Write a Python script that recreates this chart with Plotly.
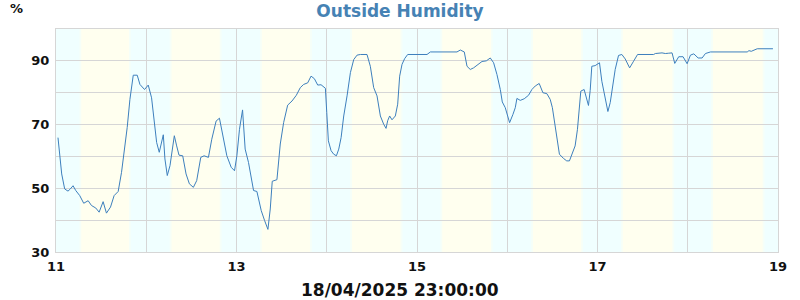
import plotly.graph_objects as go

# ---- data ----
day = [11.022, 11.041, 11.063, 11.096, 11.133, 11.159, 11.189, 11.219, 11.263, 11.307,
       11.356, 11.393, 11.441, 11.478, 11.522, 11.559, 11.604, 11.644, 11.689, 11.726,
       11.752, 11.789, 11.819, 11.856, 11.900, 11.930, 11.981, 12.022, 12.059, 12.096,
       12.115, 12.144, 12.170, 12.189, 12.207, 12.233, 12.263, 12.289, 12.311, 12.337,
       12.363, 12.404, 12.441, 12.478, 12.522, 12.559, 12.604, 12.641, 12.689, 12.726,
       12.774, 12.811, 12.848, 12.893, 12.941, 12.978, 13.004, 13.033, 13.067, 13.096,
       13.133, 13.189, 13.226, 13.274, 13.311, 13.348, 13.374, 13.396, 13.448, 13.485,
       13.522, 13.567, 13.615, 13.663, 13.707, 13.744, 13.789, 13.826, 13.863, 13.900,
       13.937, 13.985, 14.000, 14.018, 14.048, 14.077, 14.107, 14.133, 14.159, 14.188,
       14.225, 14.262, 14.299, 14.336, 14.373, 14.446, 14.483, 14.520, 14.557, 14.594,
       14.631, 14.657, 14.675, 14.697, 14.723, 14.760, 14.786, 14.808, 14.834, 14.863,
       14.897, 15.111, 15.148, 15.443, 15.480, 15.524, 15.554, 15.590, 15.627, 15.664,
       15.720, 15.768, 15.812, 15.849, 15.886, 15.923, 15.945, 15.978, 16.000, 16.026,
       16.063, 16.089, 16.107, 16.144, 16.188, 16.236, 16.273, 16.310, 16.354, 16.395,
       16.439, 16.476, 16.500, 16.530, 16.556, 16.578, 16.622, 16.659, 16.689, 16.719,
       16.752, 16.778, 16.800, 16.815, 16.852, 16.881, 16.900, 16.919, 16.937, 16.974,
       17.022, 17.048, 17.085, 17.115, 17.141, 17.170, 17.196, 17.233, 17.270, 17.307,
       17.356, 17.400, 17.444, 17.622, 17.641, 17.715, 17.752, 17.789, 17.826, 17.856,
       17.900, 17.948, 17.993, 18.030, 18.067, 18.115, 18.159, 18.196, 18.252, 18.659,
       18.678, 18.704, 18.733, 18.770, 18.944]

humidity = [65.9, 60.2, 54.5, 49.8, 49.1, 49.8, 50.8, 49.3, 47.7, 45.3,
            46.1, 44.6, 43.8, 42.5, 45.8, 42.2, 44.1, 47.7, 49.0, 55.0,
            60.2, 69.1, 77.9, 85.5, 85.5, 82.6, 81.0, 82.4, 78.4, 69.6,
            64.4, 61.3, 64.4, 66.8, 59.2, 54.0, 57.1, 62.3, 66.5, 63.3,
            60.4, 60.2, 54.5, 51.4, 50.3, 52.4, 59.7, 60.2, 59.7, 65.4,
            71.1, 72.0, 67.0, 60.2, 56.6, 55.5, 60.2, 68.5, 74.6, 62.3,
            58.1, 49.3, 49.0, 43.0, 39.9, 37.1, 43.5, 52.2, 52.7, 63.9,
            70.6, 76.1, 77.4, 79.2, 81.6, 82.6, 83.1, 85.2, 84.4, 82.4,
            82.5, 81.4, 73.8, 64.9, 61.8, 60.7, 60.2, 62.3, 65.9, 72.7,
            79.0, 86.3, 90.4, 91.8, 92.0, 92.0, 88.3, 81.6, 79.0, 72.7,
            70.1, 68.8, 71.2, 72.7, 71.5, 72.7, 76.4, 85.2, 88.9, 90.7,
            92.0, 92.0, 92.8, 92.8, 93.4, 92.8, 88.3, 87.3, 87.8, 88.6,
            89.8, 90.0, 90.9, 89.4, 85.7, 81.0, 77.1, 75.3, 73.2, 70.6,
            73.2, 75.3, 78.2, 77.6, 78.1, 79.2, 81.0, 82.1, 82.9, 80.0,
            79.7, 77.9, 75.3, 69.6, 63.3, 60.7, 59.4, 58.6, 58.6, 60.7,
            63.3, 68.5, 76.9, 80.5, 81.0, 77.9, 76.0, 80.7, 88.3, 88.5,
            89.4, 83.6, 77.9, 74.1, 76.9, 82.1, 87.3, 91.7, 92.0, 90.6,
            87.8, 89.9, 92.0, 92.0, 92.3, 92.5, 92.3, 92.4, 92.5, 89.2,
            91.3, 91.3, 89.1, 91.8, 92.2, 90.9, 90.9, 92.3, 92.8, 92.8,
            93.2, 93.0, 93.3, 93.8, 93.8]

sunrise = [11.28, 12.28, 13.28, 14.28, 15.28, 16.285, 17.28, 18.28]
sunset = [11.808, 12.815, 13.815, 14.818, 15.819, 16.82, 17.83, 18.83]

x_ticks = [11, 12, 13, 14, 15, 16, 17, 18, 19]
x_ticktext = ["11", "", "13", "", "15", "", "17", "", "19"]
y_ticks = [30, 40, 50, 60, 70, 80, 90]
y_ticktext = ["30", "", "50", "", "70", "", "90"]

title_text = "Outside Humidity"
unit_text = "%"
footer_text = "18/04/2025 23:00:00"

NIGHT = "#F0FFFF"
DAY = "#FFFFEF"
MIX = "#F6FFF8"
EDGE = 0.02

fig = go.Figure()

shapes = []
for sr, ss in zip(sunrise, sunset):
    shapes.append(dict(type="rect", xref="x", yref="paper", x0=sr - EDGE, x1=ss + EDGE,
                       y0=0, y1=1, fillcolor=MIX, line_width=0, layer="below"))
    shapes.append(dict(type="rect", xref="x", yref="paper", x0=sr, x1=ss,
                       y0=0, y1=1, fillcolor=DAY, line_width=0, layer="below"))

fig.add_trace(go.Scatter(x=day, y=humidity, mode="lines",
                         line=dict(color="#3d7fbd", width=1, shape="linear"),
                         hoverinfo="skip", showlegend=False))

axis_font = dict(family="DejaVu Sans", size=13, color="#111111", weight="bold")

fig.update_layout(
    width=800, height=300,
    margin=dict(l=56, r=22, t=29, b=48),
    paper_bgcolor="white",
    plot_bgcolor=NIGHT,
    shapes=shapes,
    title=dict(text=title_text, x=0.5, xanchor="center", y=1 - 11 / 300, yanchor="middle",
               font=dict(family="DejaVu Sans", size=17, color="#4682B4", weight="bold")),
    xaxis=dict(range=[11, 19], tickmode="array", tickvals=x_ticks, ticktext=x_ticktext,
               showgrid=True, gridcolor="#d6d6d6", gridwidth=1, zeroline=False,
               showline=True, mirror=True, linecolor="#d6d6d6", linewidth=1,
               ticks="outside", ticklen=2, tickcolor="rgba(0,0,0,0)",
               tickfont=axis_font),
    yaxis=dict(range=[30, 100], tickmode="array", tickvals=y_ticks, ticktext=y_ticktext,
               showgrid=True, gridcolor="#d6d6d6", gridwidth=1, zeroline=False,
               showline=True, mirror=True, linecolor="#d6d6d6", linewidth=1,
               ticks="outside", ticklen=3, tickcolor="rgba(0,0,0,0)",
               tickfont=axis_font),
    annotations=[
        dict(text=unit_text, xref="paper", yref="paper", x=-56 / 722 + 8 / 722, y=1 + 20 / 223,
             xanchor="left", yanchor="middle", showarrow=False,
             font=dict(family="DejaVu Sans", size=13, color="#111111", weight="bold")),
        dict(text=footer_text, xref="paper", yref="paper", x=(400 - 56) / 722, y=-38 / 223,
             xanchor="center", yanchor="middle", showarrow=False,
             font=dict(family="DejaVu Sans", size=17, color="#111111", weight="bold")),
    ],
)

fig.write_html("out.html")
